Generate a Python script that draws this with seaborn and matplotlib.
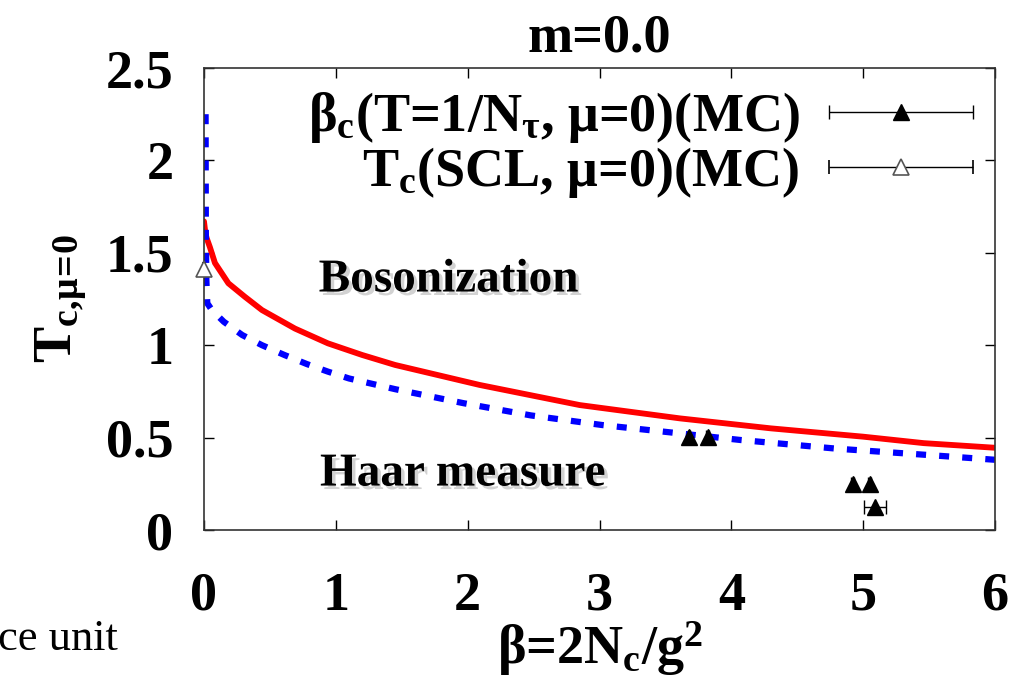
import matplotlib
matplotlib.use("Agg")
import matplotlib.pyplot as plt
import matplotlib.patheffects as pe
from matplotlib.container import ErrorbarContainer
from matplotlib.legend_handler import HandlerErrorbar
import seaborn as sns

# ---- data ----
red_beta = [0.0, 0.01, 0.02, 0.045, 0.083, 0.185, 0.31, 0.44, 0.69, 0.94, 1.2, 1.45, 2.09, 2.85, 3.61, 4.3, 5.0, 5.46, 6.0]
red_T    = [1.67, 1.61, 1.58, 1.53, 1.445, 1.335, 1.262, 1.19, 1.09, 1.01, 0.947, 0.893, 0.785, 0.676, 0.604, 0.55, 0.505, 0.47, 0.445]

blue_beta = [0.012, 0.014, 0.018, 0.025, 0.06, 0.15, 0.29, 0.44, 0.61, 0.78, 0.94, 1.1, 1.45, 1.97, 2.48, 3.02, 3.54, 4.07, 4.8, 5.49, 6.0]
blue_T    = [2.25, 1.60, 1.35, 1.227, 1.19, 1.127, 1.055, 1.0, 0.947, 0.898, 0.857, 0.82, 0.762, 0.686, 0.62, 0.568, 0.528, 0.487, 0.44, 0.406, 0.38]

mc_beta = [3.68, 3.82, 4.92, 5.05, 5.09]
mc_T    = [0.505, 0.505, 0.25, 0.25, 0.125]
mc_xerr = [0.01, 0.01, 0.01, 0.01, 0.08]

scl_beta = [0.0]
scl_T    = [1.41]
scl_xerr = [0.005]

x_ticks = [0, 1, 2, 3, 4, 5, 6]
y_ticks = [0, 0.5, 1, 1.5, 2, 2.5]
y_ticklabels = ["0", "0.5", "1", "1.5", "2", "2.5"]

sns.set_theme(style="ticks")
plt.rcParams["font.family"] = ["Liberation Serif", "DejaVu Serif"]
plt.rcParams["font.weight"] = "bold"
plt.rcParams["axes.labelweight"] = "bold"
plt.rcParams["axes.titleweight"] = "bold"
plt.rcParams["text.color"] = "black"
plt.rcParams["axes.labelcolor"] = "black"
plt.rcParams["mathtext.fontset"] = "custom"
plt.rcParams["mathtext.rm"] = "Liberation Serif:bold"
plt.rcParams["mathtext.it"] = "Liberation Serif:bold"
plt.rcParams["mathtext.bf"] = "Liberation Serif:bold"
plt.rcParams["mathtext.default"] = "rm"

FS = 39

fig = plt.figure(figsize=(10.27, 6.76), dpi=100)
ax = fig.add_axes([204/1027, 1-530/676, (995-204)/1027, (530-68)/676])

sns.lineplot(x=red_beta, y=red_T, ax=ax, color="red", lw=4.2, estimator=None, sort=False)
sns.lineplot(x=blue_beta, y=blue_T, ax=ax, color="blue", lw=4.5, estimator=None, sort=False,
             linestyle=(0, (1.6, 2.1)))

h1 = ax.errorbar(mc_beta, mc_T, xerr=mc_xerr, fmt="^", color="black", ms=11,
                 ecolor="black", elinewidth=1.0, capsize=5, capthick=1.0,
                 label="$β_c$(T=1/$N_τ$, μ=0)(MC)")
h2 = ax.errorbar(scl_beta, scl_T, xerr=scl_xerr, fmt="^", mfc="white", mec="#555555",
                 ms=11, mew=1.2, ecolor="black", elinewidth=1.0, capsize=5, capthick=1.0,
                 label="$T_c$(SCL, μ=0)(MC)", clip_on=False, zorder=5)

ax.set_xlim(0, 6)
ax.set_ylim(0, 2.5)
ax.set_xticks(x_ticks)
ax.set_yticks(y_ticks)
ax.set_yticklabels(y_ticklabels)
ax.tick_params(direction="in", length=7, width=1.0, top=True, right=True,
               labelsize=FS, colors="black")
ax.tick_params(axis="x", pad=30)
ax.tick_params(axis="y", pad=22)
for lab in ax.get_xticklabels() + ax.get_yticklabels():
    lab.set_fontweight("bold")
for s in ax.spines.values():
    s.set_color("#333333")
    s.set_linewidth(1.2)

ax.set_xlabel("β=2$N_c$/$g^2$", fontsize=FS, fontweight="bold", labelpad=-2)
ax.set_ylabel(r"$T_{c,\!μ\!=\!0}$", fontsize=FS, fontweight="bold", labelpad=12)
ax.set_title("m=0.0", fontsize=39, fontweight="bold", pad=12)

hl = 144 / (FS * 100 / 72)
leg = ax.legend(handles=[h1, h2], loc="upper right", bbox_to_anchor=(1.0, 1.0),
                frameon=False, fontsize=FS, markerfirst=False, handlelength=hl,
                handletextpad=0.55, borderaxespad=0.0, labelspacing=0.0,
                handler_map={ErrorbarContainer: HandlerErrorbar(xerr_size=hl / 2)})

shadow = [pe.withSimplePatchShadow(offset=(2.5, -2.5), shadow_rgbFace="gray", alpha=0.35)]
ax.text(0.87, 1.35, "Bosonization", fontsize=34, fontweight="bold", color="black",
        ha="left", va="center", path_effects=shadow)
ax.text(0.88, 0.30, "Haar measure", fontsize=34, fontweight="bold", color="black",
        ha="left", va="center", path_effects=shadow)

fig.text(118/1027, 1-650/676, "ce unit", fontsize=32, fontweight="normal",
         ha="right", va="baseline")

fig.savefig("out.png", dpi=100)
